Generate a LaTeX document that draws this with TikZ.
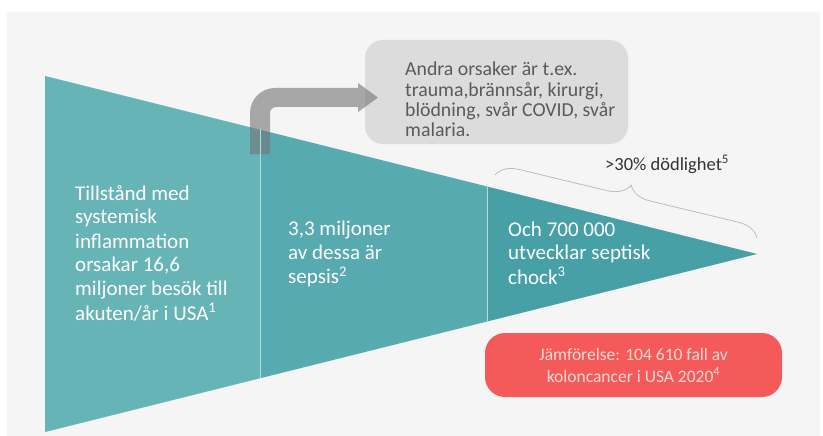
\documentclass[tikz,border=0pt]{standalone}
\usepackage{fontspec}
\setmainfont{Carlito}
\usetikzlibrary{decorations.pathreplacing}
\definecolor{bgc}{HTML}{F5F5F5}
\definecolor{tealA}{HTML}{67B4B7}
\definecolor{tealB}{HTML}{56AAB0}
\definecolor{tealC}{HTML}{46A0A6}
\definecolor{divc}{HTML}{B3DCDE}
\definecolor{boxgray}{HTML}{DCDCDC}
\definecolor{boxtext}{HTML}{5A5A5A}
\definecolor{arrowc}{HTML}{747476}
\definecolor{redbox}{HTML}{F45A5A}
\definecolor{redtext}{HTML}{FADAD2}
\definecolor{bracec}{HTML}{BDBDBD}
\definecolor{darktext}{HTML}{333333}
\tikzset{
  tritext/.style={anchor=base west, inner sep=0pt, text=white, font=\fontsize{21}{24}\selectfont},
  graytext/.style={anchor=base west, inner sep=0pt, text=boxtext, font=\fontsize{19.8}{20}\selectfont},
  redtxt/.style={anchor=base, inner sep=0pt, text=redtext, font=\fontsize{17.5}{22}\selectfont},
  divider/.style={draw=divc, line width=1pt},
}
\begin{document}
\begin{tikzpicture}[x=1pt,y=-1pt]
\useasboundingbox (0,0) rectangle (823,436);
\fill[white] (0,0) rectangle (823,436);
\fill[bgc] (7,12) rectangle (820,436);
% triangle
\coordinate (tl) at (45,76);
\coordinate (bl) at (45,432);
\coordinate (apex) at (757,254);
\begin{scope}
  \clip (tl) -- (apex) -- (bl) -- cycle;
  \fill[tealA] (45,60) rectangle (260,440);
  \fill[tealB] (260,60) rectangle (487,440);
  \fill[tealC] (487,60) rectangle (760,440);
\end{scope}
% gray box
\node[draw=none, fill=boxgray, rounded corners=18pt, minimum width=263pt, minimum height=104pt, inner sep=0pt] (other) at (496.5,92) {};
\node[graytext] (othertxt) at (405,76) {\begin{tabular}[t]{@{}l@{}}Andra orsaker är t.ex.\\trauma,brännsår, kirurgi,\\blödning, svår COVID, svår\\malaria.\end{tabular}};
% arrow
\fill[arrowc, opacity=0.6] (250,154) -- (250,113) arc[start angle=180, end angle=90, radius=25pt] -- (358,88) -- (358,83) -- (378,97.5) -- (358,112) -- (358,107) -- (276,107) arc[start angle=90, end angle=180, radius=6pt] -- (270,154) -- cycle;
% dividers
\coordinate (d1t) at (260,129.5);
\coordinate (d1b) at (260,378);
\coordinate (d2t) at (487,186);
\coordinate (d2b) at (487,321);
\draw[divider] (d1t) -- (d1b);
\draw[divider] (d2t) -- (d2b);
% texts
\node[tritext] (t1) at (75,200) {\begin{tabular}[t]{@{}l@{}}Tillstånd med\\systemisk\\inflammation\\orsakar 16,6\\miljoner besök till\\akuten/år i USA\textsuperscript{1}\end{tabular}};
\node[tritext] (t2) at (288,235.5) {\begin{tabular}[t]{@{}l@{}}3,3 miljoner\\av dessa är\\sepsis\textsuperscript{2}\end{tabular}};
\node[tritext] (t3) at (508,236) {\begin{tabular}[t]{@{}l@{}}Och 700 000\\utvecklar septisk\\chock\textsuperscript{3}\end{tabular}};
% brace
\coordinate (bra) at (495,175);
\coordinate (brb) at (757,238);
\draw[bracec, line width=0.8pt, decorate, decoration={brace, amplitude=22pt}] (bra) -- (brb);
\node[anchor=base west, inner sep=0pt, text=darktext, font=\fontsize{18.5}{20}\selectfont] (mort) at (605,170) {>30\% dödlighet\textsuperscript{5}};
% red box
\node[fill=redbox, rounded corners=20pt, minimum width=297pt, minimum height=64pt, inner sep=0pt] (cmp) at (633.5,365) {};
\node[redtxt] (cmptxt) at (633.5,360) {\begin{tabular}[t]{@{}c@{}}Jämförelse: 104 610 fall av\\koloncancer i USA 2020\textsuperscript{4}\end{tabular}};
\end{tikzpicture}
\end{document}
